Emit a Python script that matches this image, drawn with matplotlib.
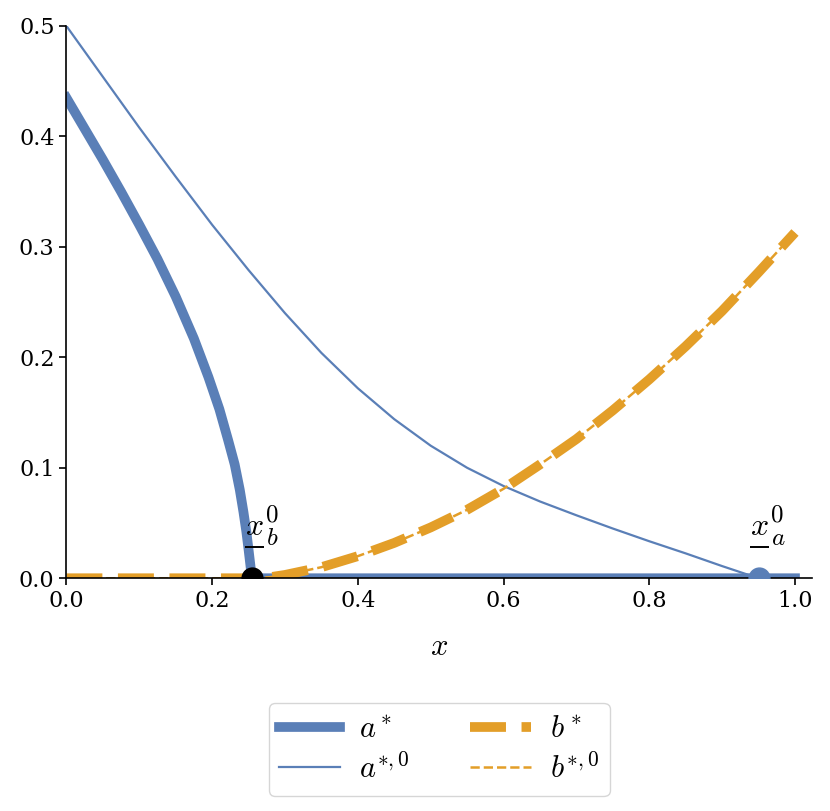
import numpy as np
import matplotlib.pyplot as plt

plt.rcParams['font.family'] = 'serif'
plt.rcParams['font.serif'] = ['DejaVu Serif']
plt.rcParams['mathtext.fontset'] = 'cm'
plt.rcParams['xtick.labelsize'] = 16
plt.rcParams['ytick.labelsize'] = 16

# values
x_a = [0.0, 0.025, 0.05, 0.075, 0.1, 0.125, 0.15, 0.175, 0.195, 0.21,
       0.222, 0.231, 0.238, 0.243, 0.247, 0.25, 0.2525, 0.2545, 0.4, 0.7, 1.0]
a_star = [0.435, 0.407, 0.379, 0.350, 0.320, 0.289, 0.255, 0.217, 0.182, 0.153,
          0.125, 0.103, 0.080, 0.060, 0.042, 0.026, 0.012, 0.0, 0.0, 0.0, 0.0]

x_a0 = [0.0, 0.05, 0.1, 0.15, 0.2, 0.25, 0.3, 0.35, 0.4, 0.45,
        0.5, 0.55, 0.6, 0.65, 0.7, 0.75, 0.8, 0.85, 0.9, 0.95]
a_star0 = [0.500, 0.454, 0.408, 0.3635, 0.320, 0.279, 0.240, 0.204, 0.172, 0.144,
           0.120, 0.100, 0.0835, 0.0695, 0.057, 0.045, 0.0335, 0.0225, 0.011, 0.0]

x_b = [0.0, 0.26, 0.28, 0.3, 0.35, 0.4, 0.45, 0.5, 0.55, 0.6,
       0.65, 0.7, 0.75, 0.8, 0.85, 0.9, 0.95, 1.0]
b_star = [0.0, 0.0, 0.001, 0.003, 0.010, 0.020, 0.032, 0.046, 0.062, 0.081,
          0.103, 0.126, 0.152, 0.180, 0.210, 0.242, 0.277, 0.313]
b_star0 = [0.0, 0.0, 0.001, 0.003, 0.010, 0.020, 0.032, 0.046, 0.062, 0.081,
           0.103, 0.126, 0.152, 0.180, 0.210, 0.242, 0.277, 0.313]

xb0 = 0.2545   # threshold for b
xa0 = 0.950    # threshold for a

blue = '#5a7fb7'
orange = '#e39e28'

fig = plt.figure(figsize=(8.3, 8.11), dpi=100)
ax = fig.add_axes([0.080, 0.287, 0.898, 0.681])

ax.plot(x_a, a_star, color=blue, lw=7, label=r'$a^*$')
ax.plot(x_a0, a_star0, color=blue, lw=1.6, label=r'$a^{*,0}$')
ax.plot(x_b, b_star, color=orange, lw=7, ls='--', label=r'$b^*$')
ax.plot(x_b, b_star0, color=orange, lw=1.8, ls='--', label=r'$b^{*,0}$')

ax.plot(xb0, 0, 'o', color='k', ms=15, zorder=5)
ax.plot(xa0, 0, 'o', color=blue, ms=15, zorder=5)

# threshold labels: underlined x with 0 / b (or a) set by hand,
# since mathtext has no \underline
lab_b = ax.text(xb0 - 0.009, 0.039, '$x$', fontsize=23, ha='left', va='baseline')
lab_a = ax.text(xa0 - 0.012, 0.039, '$x$', fontsize=23, ha='left', va='baseline')

ax.set_xlim(0, 1.023)
ax.set_ylim(0, 0.5)
ax.set_xticks(np.arange(0, 1.01, 0.2))
ax.set_yticks(np.arange(0, 0.51, 0.1))
ax.spines[['top', 'right']].set_visible(False)
ax.spines[['left', 'bottom']].set_linewidth(1.2)
ax.tick_params(width=1.2, length=5)
ax.set_xlabel('$x$', fontsize=22, labelpad=14)

ax.legend(loc='upper center', bbox_to_anchor=(0.5, -0.226), ncol=2,
          fontsize=22, handlelength=2.0, handletextpad=0.6,
          columnspacing=2.0, labelspacing=0.3, borderpad=0.35, borderaxespad=0)

fig.canvas.draw()
inv = ax.transData.inverted()
for lab, sub in ((lab_b, 'b'), (lab_a, 'a')):
    bb = lab.get_window_extent()
    w = bb.width * 72 / fig.dpi
    ax.annotate('$0$', lab.get_position(), xytext=(w + 1, 9.6),
                textcoords='offset points', fontsize=18, ha='left', va='baseline')
    ax.annotate('$%s$' % sub, lab.get_position(), xytext=(w + 1.5, -7.2),
                textcoords='offset points', fontsize=18, ha='left', va='baseline')
    yl = bb.y0 - 5
    (u0, v0), (u1, _) = inv.transform([(bb.x0, yl), (bb.x1, yl)])
    ax.plot([u0, u1], [v0, v0], color='k', lw=1.4, solid_capstyle='butt')

fig.savefig('out.png')
